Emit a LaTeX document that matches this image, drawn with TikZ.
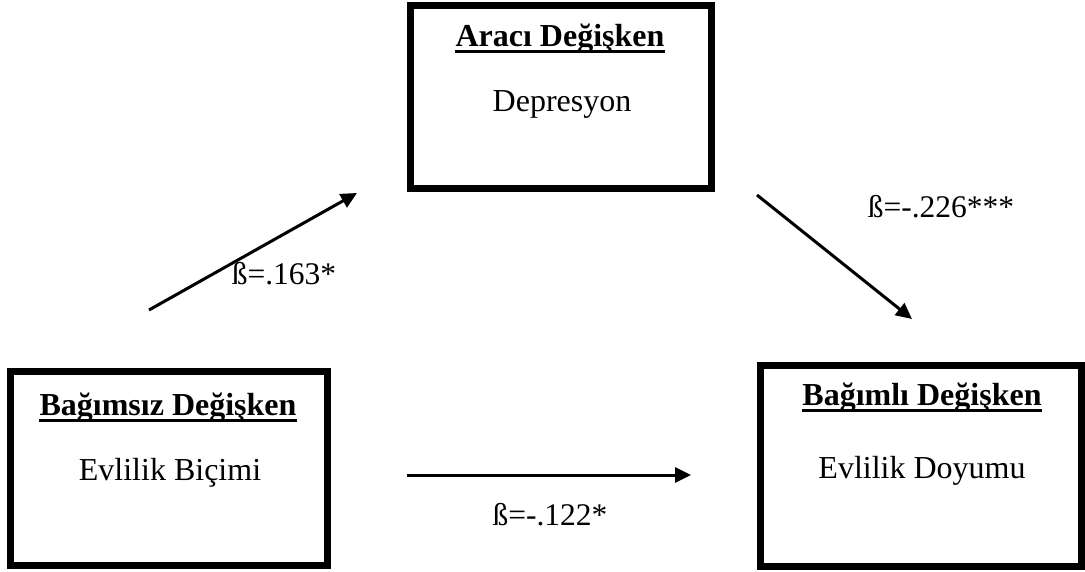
\documentclass[tikz,border=0pt]{standalone}
\usepackage{fontspec}
\setmainfont{Liberation Serif}
\usetikzlibrary{arrows.meta}
\begin{document}
\begin{tikzpicture}[x=1pt,y=-1pt,
  box/.style={draw=black,line width=7pt,rectangle,inner sep=0pt},
  head/.style={inner sep=0pt,anchor=base,font=\fontsize{32}{38}\selectfont\bfseries},
  txt/.style={inner sep=0pt,anchor=base,font=\fontsize{32}{38}\selectfont},
  uline/.style={line width=3pt},
  arr/.style={line width=3pt,-{Triangle[length=16pt,width=15pt]}},
  lab/.style={inner sep=0pt,anchor=base,font=\fontsize{31.5}{37}\selectfont}]
\useasboundingbox (0,0) rectangle (1085,572);
% boxes
\node[box,minimum width=301pt,minimum height=183pt] (top) at (561,97) {};
\node[box,minimum width=317pt,minimum height=194pt] (left) at (169,468.5) {};
\node[box,minimum width=321pt,minimum height=201pt] (right) at (921,466) {};
% texts
\node[head] (h1) at (560,47) {Aracı Değişken};
\draw[uline] ([yshift=-5pt]h1.base west) -- ([yshift=-5pt]h1.base east);
\node[txt] (t1) at (562,112) {Depresyon};
\node[head] (h2) at (168,415) {Bağımsız Değişken};
\draw[uline] ([yshift=-5pt]h2.base west) -- ([yshift=-5pt]h2.base east);
\node[txt] (t2) at (170,480) {Evlilik Biçimi};
\node[head] (h3) at (922,405) {Bağımlı Değişken};
\draw[uline] ([yshift=-5pt]h3.base west) -- ([yshift=-5pt]h3.base east);
\node[txt] (t3) at (922,478) {Evlilik Doyumu};
% arrows
\coordinate (a1s) at (149,310);
\coordinate (a1e) at (357,193);
\coordinate (a2s) at (757,195);
\coordinate (a2e) at (912,319);
\coordinate (a3s) at (407,475);
\coordinate (a3e) at (691,475);
\draw[arr] (a1s) -- (a1e);
\draw[arr] (a2s) -- (a2e);
\draw[arr] (a3s) -- (a3e);
% labels
\node[lab] (l1) at (284,285) {ß=.163*};
\node[lab] (l2) at (941,218) {ß=-.226***};
\node[lab] (l3) at (550,525) {ß=-.122*};
\end{tikzpicture}
\end{document}
